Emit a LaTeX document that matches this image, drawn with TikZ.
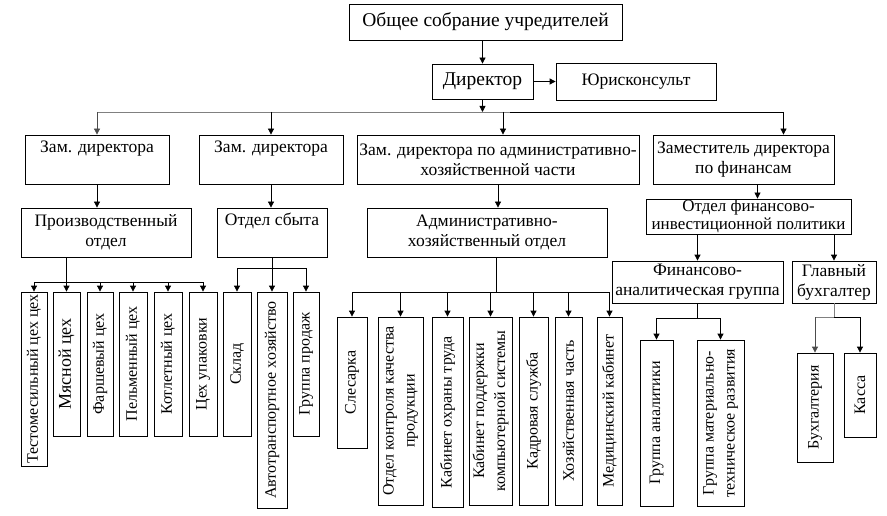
\documentclass[tikz,border=0pt]{standalone}
\usepackage{fontspec}
\setmainfont{Liberation Serif}
\usetikzlibrary{arrows.meta}

\tikzstyle{line} = [line width=0.8pt]
\tikzstyle{gline} = [line width=0.8pt, draw=gray]
\tikzstyle{arw} = [-{Triangle[length=6pt,width=6pt]}, line width=0.8pt]
\tikzstyle{box} = [draw, line width=0.8pt, align=center, inner sep=1pt, font=\fontsize{17.5}{20}\selectfont]
\tikzstyle{vbox} = [draw, line width=0.8pt, align=center, inner sep=1pt, rotate=90, font=\fontsize{16}{21}\selectfont]

\begin{document}
\begin{tikzpicture}[x=1pt,y=-1pt]
\useasboundingbox (0,0) rectangle (887,516);

% top
\node[box, font=\fontsize{19.5}{22}\selectfont, minimum width=273pt, minimum height=36pt] (sobr) at (485.5,22) {Общее собрание учредителей};
\node[box, font=\fontsize{19.5}{22}\selectfont, minimum width=101pt, minimum height=35pt] (dir) at (482.5,81.5) {Директор};
\node[box, font=\fontsize{17.5}{20}\selectfont, minimum width=160pt, minimum height=37pt] (jur) at (636,81.5) {Юрисконсульт};
\draw[arw] (dir.north |- sobr.south) -- (dir.north);
\draw[arw] (dir.east) -- (jur.west);

% deputies
\node[box, minimum width=144pt, minimum height=49pt] (zam1) at (97,159.5) {Зам. директора\\ \strut};
\node[box, minimum width=144pt, minimum height=49pt] (zam2) at (271,159.5) {Зам. директора\\ \strut};
\node[box, minimum width=282pt, minimum height=49pt] (zamahch) at (498,159.5) {Зам. директора по административно-\\хозяйственной части};
\node[box, minimum width=181pt, minimum height=49pt] (zamfin) at (743.5,159.5) {Заместитель директора\\по финансам};

\coordinate (tbus) at (482.5,112);
\draw[gline] (zam1.north |- tbus) -- ([xshift=12pt]zamahch.north |- tbus);
\draw[line] ([xshift=12pt]zamahch.north |- tbus) -- ([xshift=40pt]zamfin.north |- tbus);
\draw[arw] (dir.south) -- (tbus);
\draw[arw, gray!60!black] (zam1.north |- tbus) -- (zam1.north);
\draw[arw] (zam2.north |- tbus) -- (zam2.north);
\draw[arw] ([xshift=5pt]zamahch.north |- tbus) -- ([xshift=5pt]zamahch.north);
\draw[arw] ([xshift=40pt]zamfin.north |- tbus) -- ([xshift=40pt]zamfin.north);

% departments
\node[box, minimum width=170pt, minimum height=49pt] (proizv) at (106,232.5) {Производственный\\отдел};
\node[box, minimum width=110pt, minimum height=49pt] (sbyt) at (272,232.5) {Отдел сбыта\\ \strut};
\node[box, minimum width=240pt, minimum height=49pt] (admotd) at (487,232.5) {Административно-\\хозяйственный отдел};
\node[box, font=\fontsize{17}{18}\selectfont, minimum width=205pt, minimum height=35pt] (fininv) at (748.5,216.5) {Отдел финансово-\\инвестиционной политики};
\node[box, minimum width=171pt, minimum height=42pt] (finan) at (697.5,282) {Финансово-\\аналитическая группа};
\node[box, minimum width=84pt, minimum height=42pt] (glbuh) at (834,282) {Главный\\бухгалтер};

\draw[arw] (zam1.south) -- (zam1.south |- proizv.north);
\draw[arw] (zam2.south) -- (zam2.south |- sbyt.north);
\draw[arw] (zamahch.south) -- (zamahch.south |- admotd.north);
\draw[arw] ([xshift=14pt]zamfin.south) -- ([xshift=14pt]zamfin.south |- fininv.north);
\draw[arw] (finan.north |- fininv.south) -- (finan.north);
\draw[arw] (glbuh.north |- fininv.south) -- (glbuh.north);

% production shops
\node[vbox, minimum width=174pt, minimum height=26pt] (p1) at (34,379) {Тестомесильный цех цех};
\node[vbox, font=\fontsize{18}{21}\selectfont, minimum width=144pt, minimum height=27pt] (p2) at (66.5,364) {Мясной цех};
\node[vbox, minimum width=144pt, minimum height=26pt] (p3) at (100,364) {Фаршевый цех};
\node[vbox, minimum width=144pt, minimum height=28pt] (p4) at (133,364) {Пельменный цех};
\node[vbox, minimum width=144pt, minimum height=28pt] (p5) at (168,364) {Котлетный цех};
\node[vbox, minimum width=144pt, minimum height=28pt] (p6) at (203,364) {Цех упаковки};

\coordinate (pbus) at (0,282);
\draw[line] (proizv.south -| p2.east) -- (p2.east |- pbus);
\draw[line] (p1.east |- pbus) -- (p6.east |- pbus);
\draw[arw] (p1.east |- pbus) -- (p1.east);
\draw[arw] (p2.east |- pbus) -- (p2.east);
\draw[arw] (p3.east |- pbus) -- (p3.east);
\draw[arw] (p4.east |- pbus) -- (p4.east);
\draw[arw] (p5.east |- pbus) -- (p5.east);
\draw[arw] (p6.east |- pbus) -- (p6.east);

% sales
\node[vbox, minimum width=144pt, minimum height=28pt] (s1) at (237,364) {Склад};
\node[vbox, minimum width=216pt, minimum height=30pt] (s2) at (272,400) {Автотранспортное хозяйство};
\node[vbox, minimum width=144pt, minimum height=26pt] (s3) at (306,364) {Группа продаж};

\coordinate (sbus) at (0,268);
\draw[line] (sbyt.south -| s2.east) -- (s2.east |- sbus);
\draw[line] (s1.east |- sbus) -- (s3.east |- sbus);
\draw[arw] (s1.east |- sbus) -- (s1.east);
\draw[arw] (s2.east |- sbus) -- (s2.east);
\draw[arw] (s3.east |- sbus) -- (s3.east);

% administration
\node[vbox, minimum width=131pt, minimum height=30pt] (a1) at (352,382.5) {Слесарка};
\node[vbox, minimum width=188pt, minimum height=45pt] (a2) at (400.5,411) {Отдел контроля качества\\продукции};
\node[vbox, minimum width=190pt, minimum height=31pt] (a3) at (447.5,412) {Кабинет охраны труда};
\node[vbox, minimum width=188pt, minimum height=43pt] (a4) at (490.5,411) {Кабинет поддержки\\компьютерной системы};
\node[vbox, minimum width=188pt, minimum height=29pt] (a5) at (533.5,411) {Кадровая служба};
\node[vbox, minimum width=188pt, minimum height=27pt] (a6) at (568.5,411) {Хозяйственная часть};
\node[vbox, minimum width=188pt, minimum height=25pt] (a7) at (609.5,411) {Медицинский кабинет};

\coordinate (abus) at (0,292);
\draw[line] ([xshift=9pt]admotd.south) -- ([xshift=9pt]admotd.south |- abus);
\draw[line] (a1.east |- abus) -- (a7.east |- abus);
\draw[arw] (a1.east |- abus) -- (a1.east);
\draw[arw] (a2.east |- abus) -- (a2.east);
\draw[arw] (a3.east |- abus) -- (a3.east);
\draw[arw] (a4.east |- abus) -- (a4.east);
\draw[arw] (a5.east |- abus) -- (a5.east);
\draw[arw] (a6.east |- abus) -- (a6.east);
\draw[arw] (a7.east |- abus) -- (a7.east);

% finance
\node[vbox, minimum width=166pt, minimum height=33pt] (f1) at (656.5,423) {Группа аналитики};
\node[vbox, minimum width=166pt, minimum height=47pt] (f2) at (720.5,423) {Группа материально-\\техническое развития};

\coordinate (fbus) at (0,318);
\draw[line] (finan.south) -- (finan.south |- fbus);
\draw[line] (f1.east |- fbus) -- (f2.east |- fbus);
\draw[arw] (f1.east |- fbus) -- (f1.east);
\draw[arw] (f2.east |- fbus) -- (f2.east);

% accounting
\node[vbox, minimum width=109pt, minimum height=36pt] (b1) at (815,407.5) {Бухгалтерия};
\node[vbox, minimum width=84pt, minimum height=32pt] (b2) at (860,395) {Касса};

\coordinate (bbus) at (0,317);
\draw[gline] (glbuh.south) -- (glbuh.south |- bbus);
\draw[gline] (b1.east |- bbus) -- (glbuh.south |- bbus);
\draw[line] (glbuh.south |- bbus) -- (b2.east |- bbus);
\draw[arw, gray!60!black] (b1.east |- bbus) -- (b1.east);
\draw[arw] (b2.east |- bbus) -- (b2.east);

\end{tikzpicture}
\end{document}
